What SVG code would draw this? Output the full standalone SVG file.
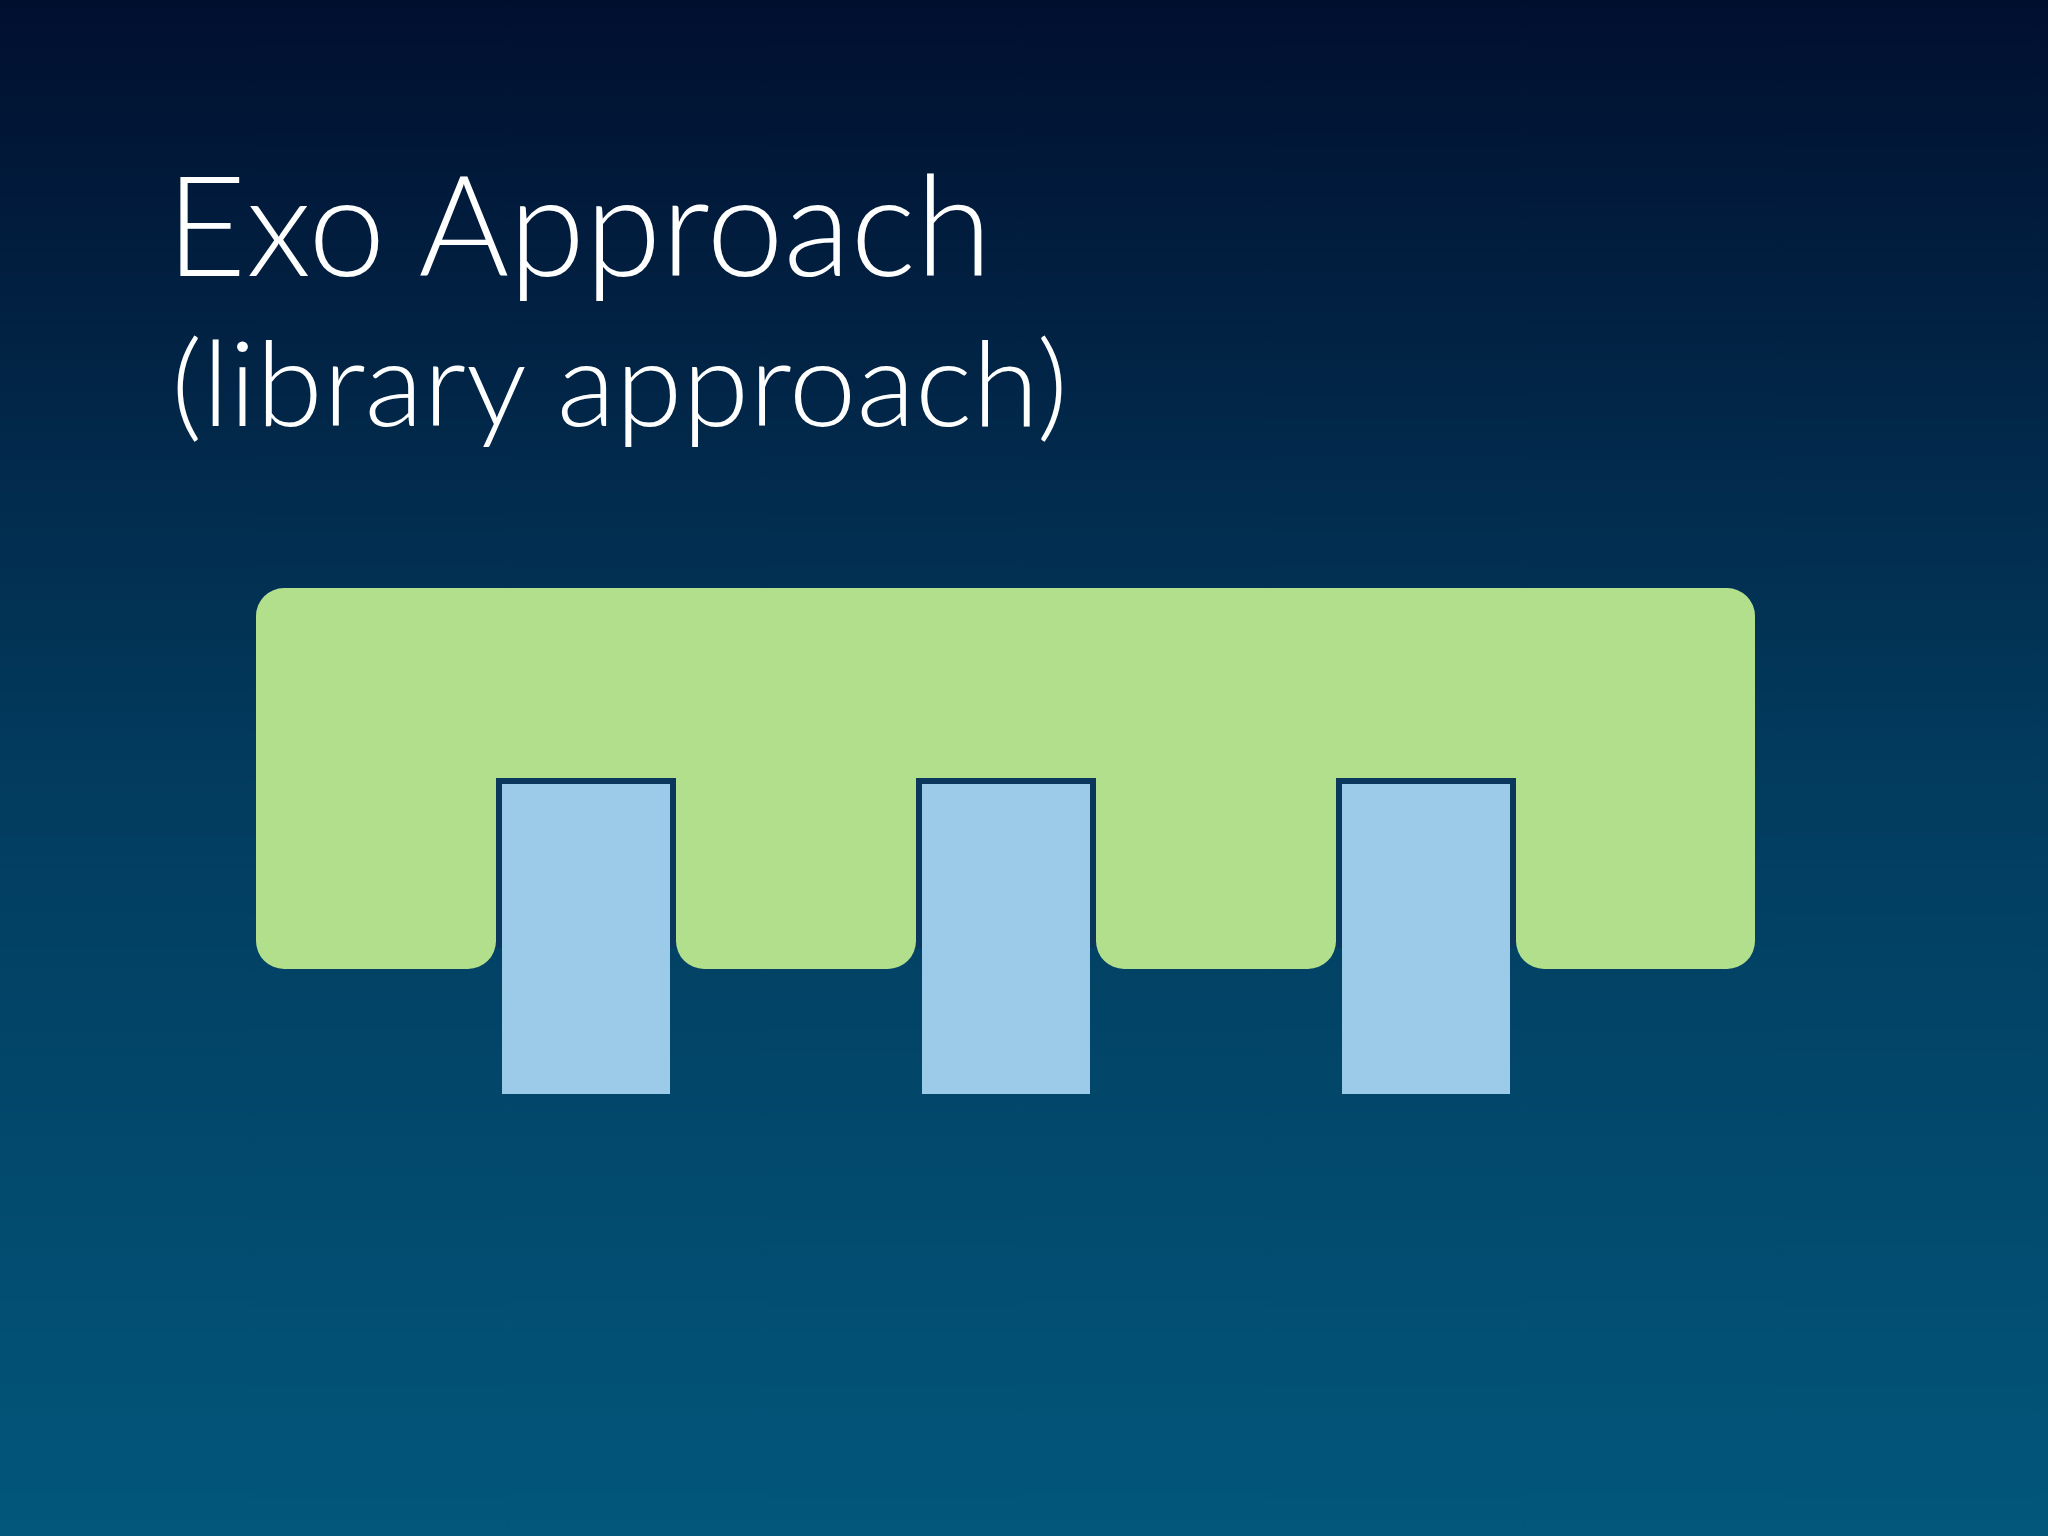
<svg xmlns="http://www.w3.org/2000/svg" width="2048" height="1536" viewBox="0 0 2048 1536">
<defs>
<linearGradient id="bg" x1="0" y1="0" x2="0" y2="1">
<stop offset="0" stop-color="#010f2f"/>
<stop offset="0.5" stop-color="#023b5e"/>
<stop offset="1" stop-color="#02577b"/>
</linearGradient>
<style>
.title{font-family:"Lato","Open Sans","DejaVu Sans",sans-serif;font-weight:300;fill:#ffffff}
.slot{fill:#0a375b}
.plug{fill:#9ccbea}
</style>
</defs>
<rect x="0" y="0" width="2048" height="1536" fill="url(#bg)"/>
<text class="title" x="166" y="276" font-size="141" textLength="826" lengthAdjust="spacingAndGlyphs">Exo Approach</text>
<text class="title" x="171" y="426" font-size="119" textLength="897" lengthAdjust="spacingAndGlyphs">(library approach)</text>
<g id="library">
<path fill="#b2df8c" d="M 284 588 H 1727 A 28 28 0 0 1 1755 616 V 941 A 28 28 0 0 1 1727 969 H 1544 A 28 28 0 0 1 1516 941 V 778 H 1336 V 941 A 28 28 0 0 1 1308 969 H 1124 A 28 28 0 0 1 1096 941 V 778 H 916 V 941 A 28 28 0 0 1 888 969 H 704 A 28 28 0 0 1 676 941 V 778 H 496 V 941 A 28 28 0 0 1 468 969 H 284 A 28 28 0 0 1 256 941 V 616 A 28 28 0 0 1 284 588 Z"/>
</g>
<g id="app1"><rect class="slot" x="496" y="778" width="180" height="170"/><rect class="plug" x="502" y="784" width="168" height="310"/></g>
<g id="app2"><rect class="slot" x="916" y="778" width="180" height="170"/><rect class="plug" x="922" y="784" width="168" height="310"/></g>
<g id="app3"><rect class="slot" x="1336" y="778" width="180" height="170"/><rect class="plug" x="1342" y="784" width="168" height="310"/></g>
<g id="connectors"/>
</svg>
